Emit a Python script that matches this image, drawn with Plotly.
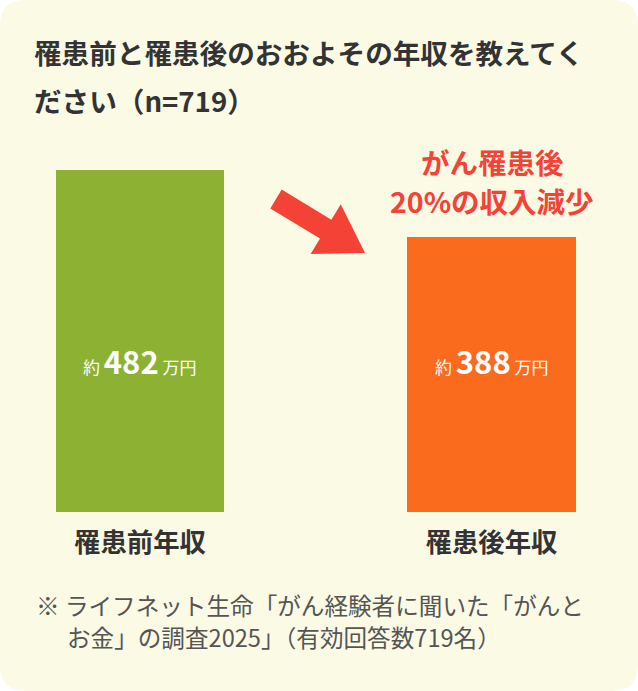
import plotly.graph_objects as go
import math

categories = ["罹患前年収", "罹患後年収"]
values = [482, 388]
bar_colors = ["#8DB133", "#FA6B1E"]
title_lines = ["罹患前と罹患後のおおよその年収を教えてく", "ださい（n=719）"]
callout_lines = ["がん罹患後", "20%の収入減少"]
footnote_lines = ["※ ライフネット生命「がん経験者に聞いた「がんと", "お金」の調査2025」（有効回答数719名）"]

W, H = 638, 691
FONT = "Noto Sans CJK JP"
BG = "#FBFAE5"

fig = go.Figure()
fig.add_trace(go.Bar(
    x=categories, y=values, marker_color=bar_colors, width=0.478,
    marker_line_width=0, hoverinfo="skip",
))

def px(x):
    return x / W
def py(y):
    return 1 - y / H

base_px = 512
scale = 342 / 482  # px per unit

r = 26
path = (f"M {px(r)},{py(0)} L {px(W-r)},{py(0)} Q {px(W)},{py(0)} {px(W)},{py(r)} "
        f"L {px(W)},{py(H-r)} Q {px(W)},{py(H)} {px(W-r)},{py(H)} "
        f"L {px(r)},{py(H)} Q {px(0)},{py(H)} {px(0)},{py(H-r)} "
        f"L {px(0)},{py(r)} Q {px(0)},{py(0)} {px(r)},{py(0)} Z")
shapes = [dict(type="path", path=path, xref="paper", yref="paper",
               fillcolor=BG, line_width=0, layer="below")]

tail = (276, 199)
tip = (365, 253)
dx, dy = tip[0]-tail[0], tip[1]-tail[1]
L = math.hypot(dx, dy)
ux, uy = dx/L, dy/L
nx, ny = -uy, ux
sw, hl, hw = 11, 46, 29
bx, by = tip[0]-ux*hl, tip[1]-uy*hl
pts = [
    (tail[0]+nx*sw, tail[1]+ny*sw),
    (bx+nx*sw, by+ny*sw),
    (bx+nx*hw, by+ny*hw),
    tip,
    (bx-nx*hw, by-ny*hw),
    (bx-nx*sw, by-ny*sw),
    (tail[0]-nx*sw, tail[1]-ny*sw),
]
apath = "M " + " L ".join(f"{px(x)},{py(y)}" for x, y in pts) + " Z"
shapes.append(dict(type="path", path=apath, xref="paper", yref="paper",
                   fillcolor="#F44336", line_width=0))

annotations = []
for i, t in enumerate(title_lines):
    annotations.append(dict(text=f"<b>{t}</b>", x=px(32), y=py(52 + 48*i), xref="paper", yref="paper",
                            xanchor="left", yanchor="middle", showarrow=False,
                            font=dict(family=FONT, size=27.6, color="#333333")))
for i, t in enumerate(callout_lines):
    annotations.append(dict(text=f"<b>{t}</b>", x=px(492), y=py(162 + 38*i), xref="paper", yref="paper",
                            xanchor="center", yanchor="middle", showarrow=False,
                            font=dict(family=FONT, size=28.5, color="#F44336")))
for c, v in zip(categories, values):
    annotations.append(dict(
        text=f"<span style='font-size:17px'>約 </span><b>{v}</b><span style='font-size:17px'> 万円</span>",
        x=c, y=py(360), xref="x", yref="paper", xanchor="center", yanchor="middle",
        showarrow=False, font=dict(family=FONT, size=31, color="white")))
for i, t in enumerate(footnote_lines):
    annotations.append(dict(text=t, x=px(34 if i == 0 else 65), y=py(605 + 32*i), xref="paper", yref="paper",
                            xanchor="left", yanchor="middle", showarrow=False,
                            font=dict(family=FONT, size=23.6, color="#555555")))

x0 = -140 / 351.5
fig.update_layout(
    width=W, height=H, margin=dict(l=0, r=0, t=0, b=0),
    paper_bgcolor="white", plot_bgcolor="rgba(0,0,0,0)",
    showlegend=False, shapes=shapes, annotations=annotations,
    xaxis=dict(range=[x0, x0 + W/351.5], showgrid=False, zeroline=False, showline=False,
               ticks="", tickfont=dict(family=FONT, size=26.4, color="#333333"),
               ticklabelstandoff=13, fixedrange=True,
               tickvals=categories, ticktext=[f"<b>{c}</b>" for c in categories]),
    yaxis=dict(domain=[1 - base_px/H, 1], range=[0, base_px/scale], visible=False, fixedrange=True),
    bargap=0,
)
fig.write_html("out.html")
